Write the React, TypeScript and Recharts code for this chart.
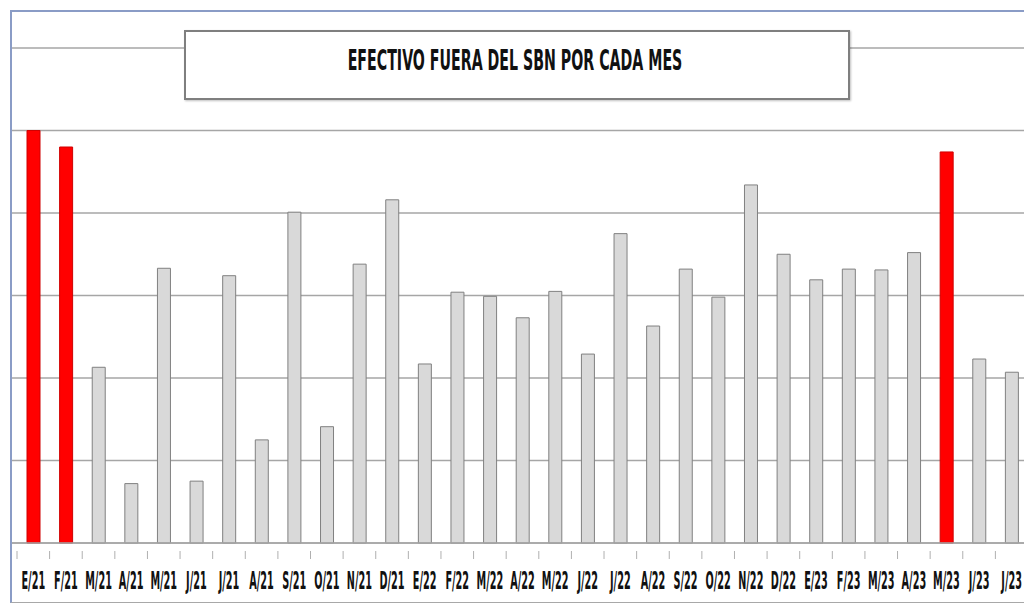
import React from 'react';
import { Bar, BarChart, CartesianGrid, Cell, XAxis, YAxis } from 'recharts';

const months = [
  'E/21', 'F/21', 'M/21', 'A/21', 'M/21', 'J/21', 'J/21', 'A/21', 'S/21', 'O/21', 'N/21', 'D/21',
  'E/22', 'F/22', 'M/22', 'A/22', 'M/22', 'J/22', 'J/22', 'A/22', 'S/22', 'O/22', 'N/22', 'D/22',
  'E/23', 'F/23', 'M/23', 'A/23', 'M/23', 'J/23', 'J/23',
];

const efectivo = [
  5.0, 4.8, 2.13, 0.72, 3.33, 0.75, 3.24, 1.25, 4.01, 1.41, 3.38, 4.16,
  2.17, 3.04, 2.99, 2.73, 3.05, 2.29, 3.75, 2.63, 3.32, 2.98, 4.34, 3.5,
  3.19, 3.32, 3.31, 3.52, 4.74, 2.23, 2.07,
];

// months shown in red
const highlighted = [0, 1, 28];

const yTicks = [0, 1, 2, 3, 4, 5, 6];

const data = months.map((m, i) => ({ key: `${m}-${i}`, mes: m, valor: efectivo[i] }));

const labelFont = '"Liberation Sans Narrow", "DejaVu Sans Condensed", Arial, sans-serif';

const MonthTick = (props: any) => {
  const { x, y, payload } = props;
  const half = 16.3;
  const label = data[payload.index]?.mes ?? '';
  return (
    <g>
      <line x1={x + half} x2={x + half} y1={y} y2={y + 8} stroke="#b0b0b0" />
      {payload.index === 0 && <line x1={x - half} x2={x - half} y1={y} y2={y + 8} stroke="#b0b0b0" />}
      <text
        transform={`translate(${x},${y + 38}) scale(0.72,1.6)`}
        textAnchor="middle"
        fontFamily={labelFont}
        fontWeight="bold"
        fontSize={15}
        fill="#111"
      >
        {label}
      </text>
    </g>
  );
};

const App = () => {
  return (
    <div style={{ position: 'absolute', left: 0, top: 0, width: 1024, height: 608, overflow: 'hidden', background: '#fff' }}>
      <div
        style={{
          position: 'absolute',
          left: 10,
          top: 10,
          width: 1100,
          height: 590,
          borderLeft: '2px solid #8a9cc6',
          borderTop: '2px solid #8a9cc6',
          borderBottom: '1px solid #a8a8a8',
        }}
      />
      <div style={{ position: 'absolute', left: 0, top: 0 }}>
        <BarChart width={1040} height={608} data={data} margin={{ top: 48, right: 12, bottom: 0, left: 12 }} barSize={13}>
          <CartesianGrid vertical={false} stroke="#a6a6a6" strokeWidth={1.5} />
          <YAxis hide domain={[0, 6]} ticks={yTicks} />
          <XAxis
            dataKey="key"
            height={65}
            interval={0}
            padding={{ left: 5, right: 0 }}
            tickLine={false}
            axisLine={{ stroke: '#a6a6a6', strokeWidth: 1.5 }}
            tick={<MonthTick />}
          />
          <Bar dataKey="valor" isAnimationActive={false} stroke="#808080" strokeWidth={1}>
            {data.map((d, i) => (
              <Cell
                key={d.key}
                fill={highlighted.includes(i) ? '#ff0000' : '#d9d9d9'}
                stroke={highlighted.includes(i) ? '#d00000' : '#808080'}
              />
            ))}
          </Bar>
        </BarChart>
      </div>
      <div
        style={{
          position: 'absolute',
          left: 184,
          top: 30,
          width: 662,
          height: 66,
          border: '2px solid #7f7f7f',
          background: '#fff',
          boxShadow: '1px 1px 2px rgba(0,0,0,0.25)',
          textAlign: 'center',
        }}
      >
        <div
          style={{
            marginTop: 19,
            fontFamily: labelFont,
            fontWeight: 'bold',
            fontSize: 19,
            lineHeight: '19px',
            color: '#111',
            transform: 'scale(0.83,1.45)',
            marginLeft: -4,
          }}
        >
          EFECTIVO FUERA DEL SBN POR CADA MES
        </div>
      </div>
    </div>
  );
};

export default App;
